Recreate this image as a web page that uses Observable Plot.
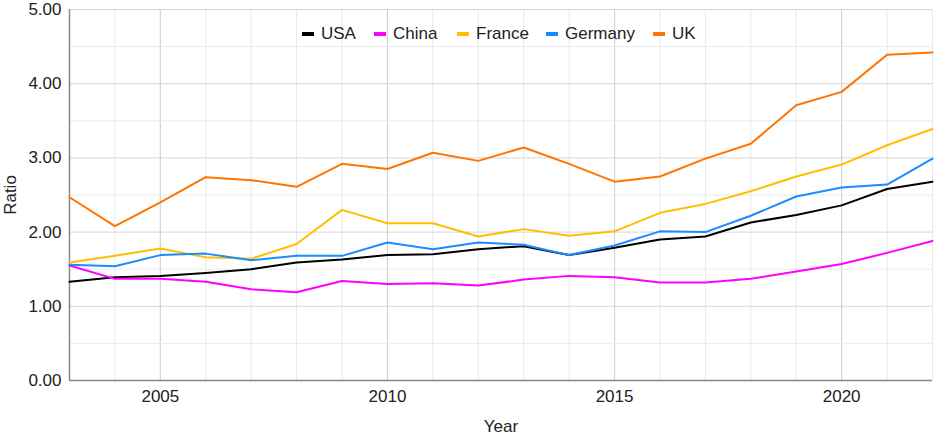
<!DOCTYPE html>
<html>
<head>
<meta charset="utf-8">
<script src="https://cdn.jsdelivr.net/npm/d3@7"></script>
<script src="https://cdn.jsdelivr.net/npm/@observablehq/plot@0.6"></script>
<style>
  html, body { margin: 0; padding: 0; background: #fff; }
  #wrap { position: relative; width: 934px; height: 434px; font-family: "Liberation Sans", Arial, sans-serif; }
  .item { position: absolute; top: 24px; display: flex; align-items: center; font-size: 17px; color: #222; line-height: 20px; white-space: nowrap; }
  .sw { width: 12px; height: 3.5px; margin-right: 7px; }
</style>
</head>
<body>
<div id="wrap"></div>
<script>
const years = [2003,2004,2005,2006,2007,2008,2009,2010,2011,2012,2013,2014,2015,2016,2017,2018,2019,2020,2021,2022];
const series = ["USA","China","France","Germany","UK"];
const colors = ["#000000","#ff00ff","#ffbf00","#1a8cff","#ff7300"];
const usa     = [1.33,1.39,1.41,1.45,1.50,1.59,1.63,1.69,1.70,1.77,1.81,1.69,1.79,1.90,1.94,2.13,2.23,2.36,2.58,2.68];
const china   = [1.55,1.37,1.37,1.33,1.23,1.19,1.34,1.30,1.31,1.28,1.36,1.41,1.39,1.32,1.32,1.37,1.47,1.57,1.72,1.88];
const france  = [1.59,1.68,1.78,1.66,1.64,1.84,2.30,2.12,2.12,1.94,2.04,1.95,2.01,2.26,2.38,2.55,2.75,2.91,3.17,3.39];
const germany = [1.56,1.54,1.69,1.71,1.62,1.68,1.68,1.86,1.77,1.86,1.83,1.69,1.82,2.01,2.00,2.22,2.48,2.60,2.64,2.99];
const uk      = [2.47,2.08,2.40,2.74,2.70,2.61,2.92,2.85,3.07,2.96,3.14,2.92,2.68,2.75,2.99,3.19,3.71,3.89,4.39,4.42];
const xTicks = [2005,2010,2015,2020];
const yTicks = [0,1,2,3,4,5];
const yMinor = [0.5,1.5,2.5,3.5,4.5];

const valueArrays = [usa, china, france, germany, uk];
const rows = [];
series.forEach((s, i) => years.forEach((y, j) => rows.push({series: s, year: y, value: valueArrays[i][j]})));

const chart = Plot.plot({
  width: 934,
  height: 434,
  marginLeft: 69,
  marginRight: 2,
  marginTop: 9,
  marginBottom: 54,
  style: {fontFamily: "'Liberation Sans', Arial, sans-serif", fontSize: "17px", color: "#222", background: "#fff"},
  x: {domain: [2003, 2022], label: null},
  y: {domain: [0, 5], label: null},
  color: {domain: series, range: colors},
  marks: [
    Plot.ruleX(years, {stroke: "#e8e8e8", strokeWidth: 1, strokeOpacity: 1}),
    Plot.ruleX(xTicks, {stroke: "#d0d0d0", strokeWidth: 1, strokeOpacity: 1}),
    Plot.ruleY(yMinor, {stroke: "#ebebeb", strokeWidth: 1, strokeOpacity: 1}),
    Plot.ruleY(yTicks, {stroke: "#d6d6d6", strokeWidth: 1, strokeOpacity: 1}),
    Plot.ruleX([2003], {stroke: "#888", strokeWidth: 1.5}),
    Plot.ruleY([0], {stroke: "#888", strokeWidth: 1.5}),
    Plot.axisX({ticks: xTicks, tickFormat: d => String(d), tickSize: 0, tickPadding: 9, label: "Year", labelAnchor: "center", labelArrow: "none", labelOffset: 51, fill: "#222", fontSize: 17}),
    Plot.axisY({ticks: yTicks, tickFormat: d3.format(".2f"), tickSize: 0, tickPadding: 8, label: "Ratio", labelAnchor: "center", labelArrow: "none", labelOffset: 66, fill: "#222", fontSize: 17}),
    Plot.line(rows, {x: "year", y: "value", stroke: "series", z: "series", strokeWidth: 2})
  ]
});
const wrap = document.getElementById("wrap");
wrap.appendChild(chart);

const legendLeft = [302, 374, 457, 546, 653];
series.forEach((s, i) => {
  const it = document.createElement("div");
  it.className = "item";
  it.style.left = legendLeft[i] + "px";
  it.innerHTML = `<span class="sw" style="background:${colors[i]}"></span><span>${s}</span>`;
  wrap.appendChild(it);
});
</script>
</body>
</html>
